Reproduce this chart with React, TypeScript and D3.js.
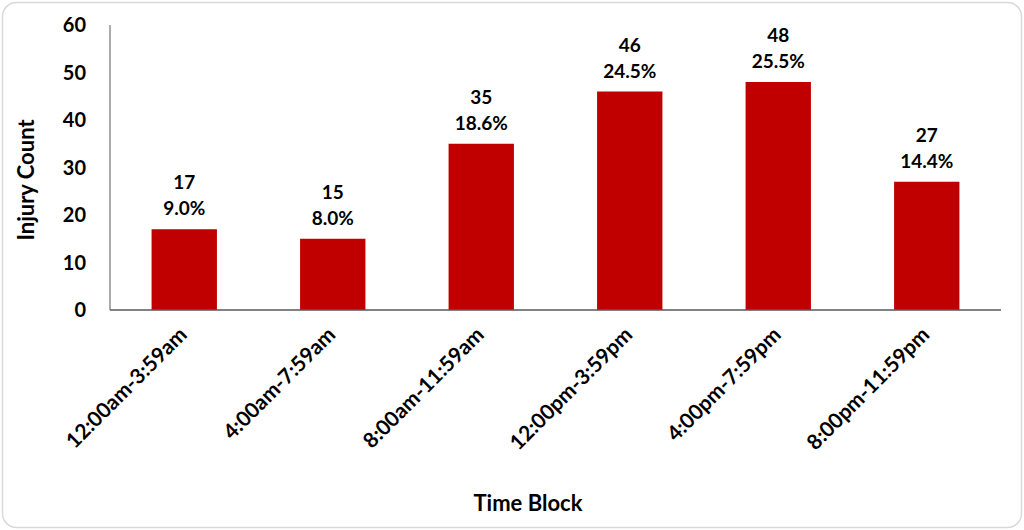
import React from "react";
import * as d3 from "d3";

const categories = ["12:00am-3:59am", "4:00am-7:59am", "8:00am-11:59am", "12:00pm-3:59pm", "4:00pm-7:59pm", "8:00pm-11:59pm"];
const counts = [17, 15, 35, 46, 48, 27];
const percents = ["9.0%", "8.0%", "18.6%", "24.5%", "25.5%", "14.4%"];
const yTicks = [0, 10, 20, 30, 40, 50, 60];

const W = 1024;
const H = 530;
const FONT = "Lato, 'Open Sans', sans-serif";

export default function App() {
  const left = 110, right = 1001, top = 25, bottom = 310;
  const x = d3.scaleBand<string>().domain(categories).range([left, right]).paddingInner(0.56).paddingOuter(0.28);
  const y = d3.scaleLinear().domain([0, 60]).range([bottom, top]);

  return (
    <svg width={W} height={H} style={{ position: "absolute", left: 0, top: 0, background: "#fff" }} fontFamily={FONT}>
      <rect x={2.5} y={2.5} width={W - 5} height={H - 5} rx={14} fill="#fff" stroke="#d9d9d9" strokeWidth={1.5} />
      {categories.map((c, i) => {
        const bx = x(c)!;
        const by = y(counts[i]);
        const cx = bx + x.bandwidth() / 2;
        return (
          <g key={c}>
            <rect x={bx} y={by} width={x.bandwidth()} height={bottom - by} fill="#c00000" />
            <text x={cx} y={by - 40} textAnchor="middle" fontSize={19} fontWeight="bold" fill="#000">{counts[i]}</text>
            <text x={cx} y={by - 14} textAnchor="middle" fontSize={19} fontWeight="bold" fill="#000">{percents[i]}</text>
            <text transform={`translate(${cx + 4},${336}) rotate(-45)`} textAnchor="end" fontSize={21} fontWeight="bold" fill="#000">{c}</text>
          </g>
        );
      })}
      <line x1={left} x2={left} y1={top} y2={bottom} stroke="#595959" strokeWidth={1} />
      <line x1={left} x2={right} y1={bottom} y2={bottom} stroke="#595959" strokeWidth={1.5} />
      {yTicks.map((t) => (
        <text key={t} x={86} y={y(t)} dy="0.36em" textAnchor="end" fontSize={20} fontWeight="bold" fill="#000">{t}</text>
      ))}
      <text transform={`translate(34,180) rotate(-90)`} textAnchor="middle" fontSize={22} fontWeight="bold" fill="#000">Injury Count</text>
      <text x={528} y={511} textAnchor="middle" fontSize={22} fontWeight="bold" fill="#000">Time Block</text>
    </svg>
  );
}
